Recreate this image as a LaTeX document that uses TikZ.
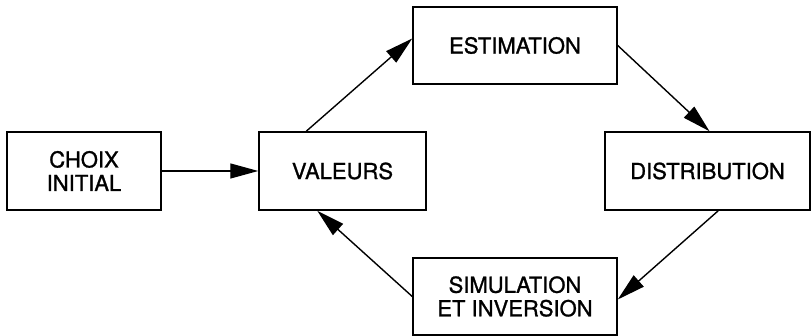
\documentclass[tikz,border=0pt]{standalone}
\usepackage{fontspec}
\setmainfont[FakeBold=1.2]{TeX Gyre Heros}
\usetikzlibrary{arrows.meta}
\begin{document}
\begin{tikzpicture}[x=1pt,y=1pt,
  box/.style={draw=black, line width=1.5pt, inner sep=0pt, align=center,
    font=\fontsize{22}{23.5}\selectfont},
  conn/.style={line width=1.4pt, -{Triangle[length=28pt,width=15pt]}}]
\useasboundingbox (0,0) rectangle (812,336);
\node[box, minimum width=154pt, minimum height=78pt] (C) at (84,165) {CHOIX\\INITIAL};
\node[box, minimum width=167pt, minimum height=78pt] (V) at (342.5,165) {VALEURS};
\node[box, minimum width=204pt, minimum height=77pt] (E) at (515,290.5) {ESTIMATION};
\node[box, minimum width=205pt, minimum height=78pt] (D) at (707.5,165) {DISTRIBUTION};
\node[box, minimum width=204pt, minimum height=77pt] (S) at (515,39.5) {SIMULATION\\ET INVERSION};
\draw[conn] (C.east) -- (V.west);
\draw[conn] ([xshift=48pt]V.north west) -- ([yshift=7pt]E.west);
\draw[conn] (E.east) -- ([xshift=2pt]D.north);
\draw[conn] ([xshift=114pt]D.south west) -- ([yshift=-3pt]S.east);
\draw[conn] (S.west) -- ([xshift=59pt]V.south west);
\end{tikzpicture}
\end{document}
